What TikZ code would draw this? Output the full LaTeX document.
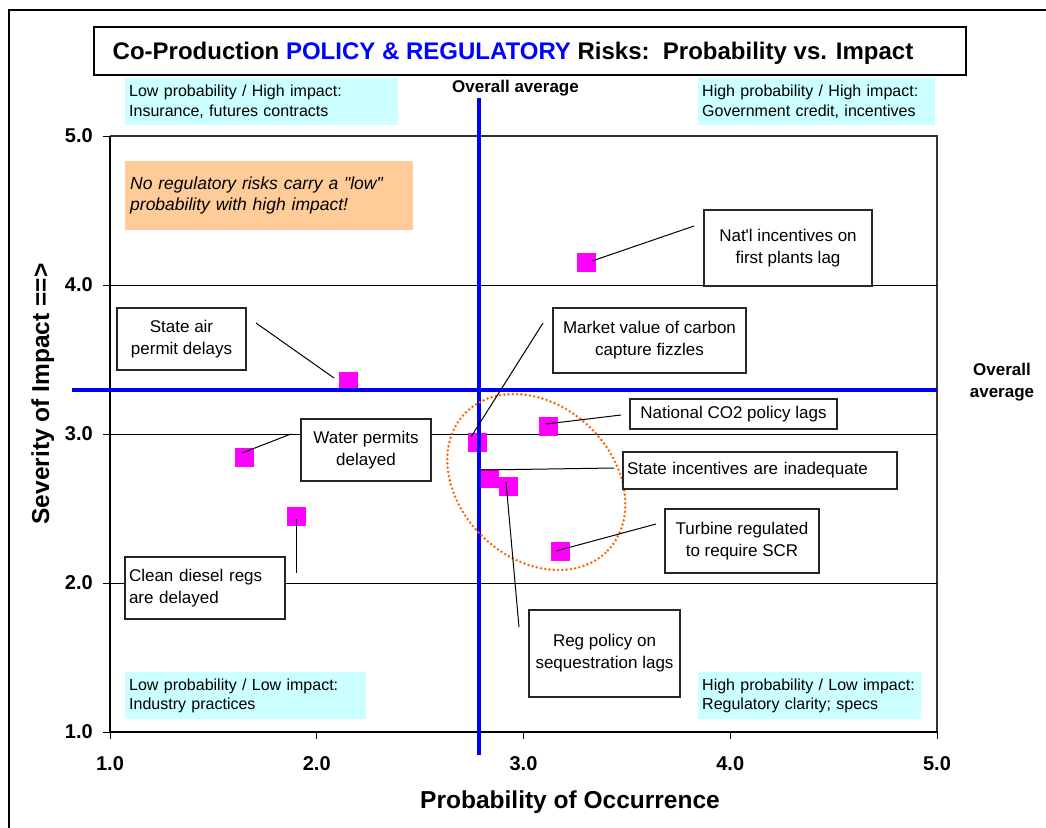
\documentclass[tikz,border=0pt]{standalone}
\usepackage{fontspec}
\setmainfont{Liberation Sans}
\definecolor{cyanbg}{HTML}{CCFFFF}
\definecolor{orangebg}{HTML}{FFCC99}
\definecolor{ptmag}{HTML}{FF00FF}
\definecolor{ellorange}{HTML}{FF6600}
\definecolor{avgblue}{HTML}{0000FF}
\begin{document}
\begin{tikzpicture}[x=1pt,y=-1pt,
  labelbox/.style={draw=black!85, line width=1.2pt, fill=white, inner sep=0pt, align=center, font=\fontsize{17}{22}\selectfont},
  zonebox/.style={fill=cyanbg, inner xsep=4pt, inner ysep=0pt, align=left, font=\fontsize{16}{19.5}\selectfont, anchor=north west},
  riskpt/.style={fill=ptmag, minimum size=19pt, inner sep=0pt},
  leader/.style={black, line width=1pt},
  avgline/.style={avgblue, line width=3.8pt},
  gridln/.style={black, line width=0.9pt},
  ticklbl/.style={font=\bfseries\fontsize{20}{24}\selectfont, inner sep=0pt},
  axistitle/.style={font=\bfseries\fontsize{24.5}{28}\selectfont, inner sep=0pt},
  avglbl/.style={font=\bfseries\fontsize{17}{22}\selectfont, inner sep=0pt, align=center}
]
\useasboundingbox (0,0) rectangle (1046,827);
\clip (0,0) rectangle (1046,827);
% outer frame
\draw[line width=2pt] (9,10) rectangle (1100,900);
% title
\node[draw, line width=2pt, minimum width=872pt, minimum height=48pt, inner sep=0pt, anchor=north west] (titlebox) at (93,26) {};
\node[font=\bfseries\fontsize{24}{28}\selectfont, anchor=base, inner sep=0pt] (title) at (513,59.5)
  {Co-Production \textcolor{avgblue}{POLICY \& REGULATORY} Risks:\ \ Probability vs. Impact};
% zone boxes
\node[zonebox, text width=265pt, minimum height=47pt] (zTL) at (125,78) {Low probability / High impact:\\Insurance, futures contracts};
\node[zonebox, text width=229pt, minimum height=47pt] (zTR) at (698,78) {High probability / High impact:\\Government credit, incentives};
\node[zonebox, text width=233pt, minimum height=47pt] (zBL) at (125,672) {Low probability / Low impact:\\Industry practices};
\node[zonebox, text width=215pt, minimum height=47pt] (zBR) at (698,672) {High probability / Low impact:\\Regulatory clarity; specs};
% plot frame and grid
\draw[black!80, line width=1.2pt] (110,136) -- (937,136) -- (937,732);
\draw[gridln] (110,285) -- (937,285);
\draw[gridln] (110,434) -- (937,434);
\draw[gridln] (110,583) -- (937,583);
\draw[black, line width=2pt] (110,136) -- (110,732) -- (937,732);
\foreach \yy in {136,285,434,583,732} \draw[black, line width=1pt] (103,\yy) -- (110,\yy);
\foreach \xx in {110,316.75,523.5,730.25,937} \draw[black, line width=1pt] (\xx,732) -- (\xx,739);
% tick labels
\node[ticklbl, anchor=east] (y5) at (93,136) {5.0};
\node[ticklbl, anchor=east] (y4) at (93,285) {4.0};
\node[ticklbl, anchor=east] (y3) at (93,434) {3.0};
\node[ticklbl, anchor=east] (y2) at (93,583) {2.0};
\node[ticklbl, anchor=east] (y1) at (93,732) {1.0};
\node[ticklbl] (x1) at (110,764) {1.0};
\node[ticklbl] (x2) at (316.75,764) {2.0};
\node[ticklbl] (x3) at (523.5,764) {3.0};
\node[ticklbl] (x4) at (730.25,764) {4.0};
\node[ticklbl] (x5) at (937,764) {5.0};
% axis titles
\node[axistitle, anchor=base] (xtitle) at (570,808) {Probability of Occurrence};
\node[axistitle, anchor=base, rotate=90] (ytitle) at (49,394) {Severity of Impact ==>};
% note box
\node[fill=orangebg, inner xsep=5pt, inner ysep=0pt, text width=278pt, minimum height=69pt, anchor=north west, align=left,
  font=\itshape\fontsize{17.5}{21.5}\selectfont] (note) at (125,161) {No regulatory risks carry a \textquotedbl low\textquotedbl\\probability with high impact!};
% data points
\node[riskpt] (p1) at (586.5,262.5) {};
\node[riskpt] (p2) at (348.5,381) {};
\node[riskpt] (p3) at (244.5,457) {};
\node[riskpt] (p4) at (296.5,516.5) {};
\node[riskpt] (p5) at (477,442) {};
\node[riskpt] (p6) at (548,426.5) {};
\node[riskpt] (p7) at (489,478.5) {};
\node[riskpt] (p8) at (508.5,486.5) {};
\node[riskpt] (p9) at (560,551.5) {};
% average lines
\coordinate (vTop) at (479,98);
\coordinate (vBot) at (479,755);
\coordinate (hLeft) at (72,390);
\coordinate (hRight) at (937,390);
\draw[avgline] (vTop) -- (vBot);
\draw[avgline] (hLeft) -- (hRight);
\node[avglbl, anchor=base] (avgTop) at (515.5,92.5) {Overall average};
\node[avglbl] (avgRight) at (1002,382.6) {Overall\\average};
% cluster ellipse
\draw[ellorange, line width=2.8pt, line cap=round, dash pattern=on 0pt off 4.3pt, rotate around={-43.7:(536.3,482)}]
  (536.3,482) ellipse [x radius=99pt, y radius=76.6pt];
% leader lines
\coordinate (s1) at (592,261);   \coordinate (e1) at (694,226);
\coordinate (s2) at (334,378);   \coordinate (e2) at (256,323);
\coordinate (s3) at (242,453);   \coordinate (e3) at (291,434);
\coordinate (s4) at (296,519);   \coordinate (e4) at (296,573);
\coordinate (s5) at (471,437);   \coordinate (e5) at (543,323);
\coordinate (s6) at (546,424);   \coordinate (e6) at (621,415);
\coordinate (s7) at (481,470);   \coordinate (e7) at (614,468);
\coordinate (s8) at (506,482);   \coordinate (e8) at (519,627);
\coordinate (s9) at (556,551);   \coordinate (e9) at (656,524);
\foreach \i in {1,...,9} \draw[leader] (s\i) -- (e\i);
% label boxes
\node[labelbox, minimum width=168pt, minimum height=76pt] (lNat) at (788,248) {Nat\textquotesingle l incentives on\\first plants lag};
\node[labelbox, minimum width=129pt, minimum height=62pt] (lAir) at (181.5,339) {State air\\permit delays};
\node[labelbox, minimum width=193pt, minimum height=65pt] (lMkt) at (649.5,340.5) {Market value of carbon\\capture fizzles};
\node[labelbox, minimum width=207pt, minimum height=30pt] (lCO2) at (733.5,414) {National CO2 policy lags};
\node[labelbox, minimum width=130pt, minimum height=62pt] (lWater) at (366,450) {Water permits\\delayed};
\node[labelbox, minimum width=274pt, minimum height=37pt, text width=266pt, inner xsep=4pt, align=left] (lStInc) at (760,470.5) {State incentives are inadequate};
\node[labelbox, minimum width=154pt, minimum height=64pt] (lTurb) at (742,541) {Turbine regulated\\to require SCR};
\node[labelbox, minimum width=151pt, minimum height=87pt] (lSeq) at (604.5,653.5) {Reg policy on\\sequestration lags};
\node[labelbox, minimum width=160pt, minimum height=62pt, text width=152pt, inner xsep=4pt, align=left] (lDiesel) at (205,588) {Clean diesel regs\\are delayed};
\end{tikzpicture}
\end{document}
